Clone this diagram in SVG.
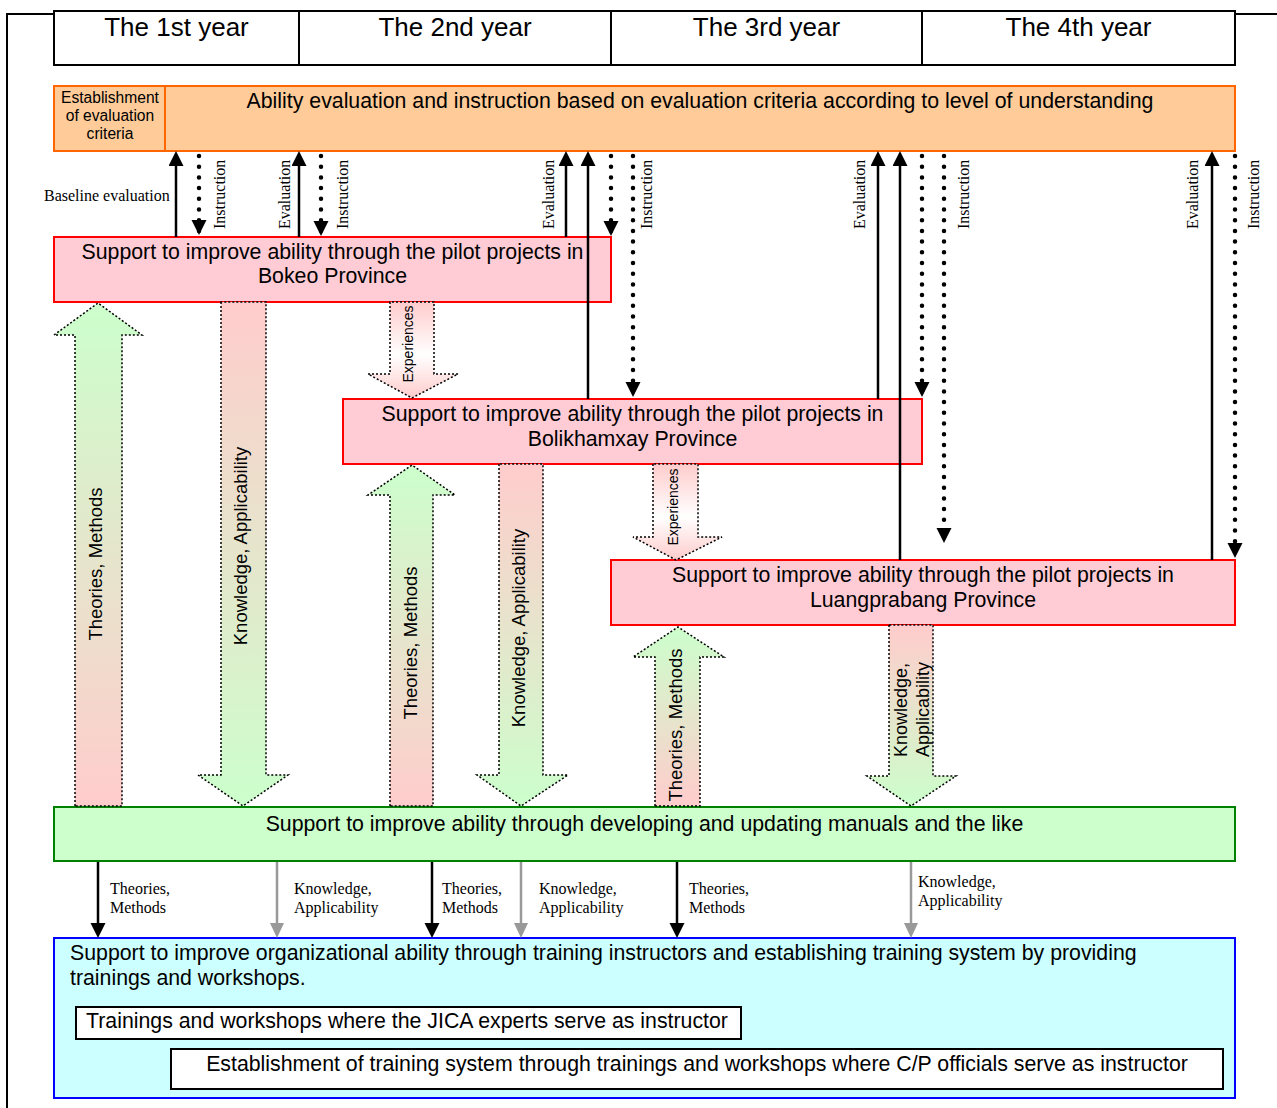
<svg xmlns="http://www.w3.org/2000/svg" width="1277" height="1108" viewBox="0 0 1277 1108">
<style>
text{font-family:"Liberation Sans",Arial,sans-serif;fill:#000}
.hdr{font-size:26px;text-anchor:middle}
.big{font-size:21.3px}
.mid{text-anchor:middle}
.sm{font-size:15.6px;text-anchor:middle}
.ser{font-family:"Liberation Serif","Times New Roman",serif;font-size:16px}
.blk{font-size:18.5px;text-anchor:middle}
.exp{font-size:14px;text-anchor:middle}
.frame{fill:none;stroke:#000;stroke-width:2}
.hbox{fill:#fff;stroke:#000;stroke-width:2}
.orange{fill:#FFCC99;stroke:#FF6600;stroke-width:2}
.pink{fill:#FFCCD5;stroke:#FF0000;stroke-width:2}
.green{fill:#CCFFCC;stroke:#008000;stroke-width:2}
.cyan{fill:#CCFFFF;stroke:#0000FF;stroke-width:2}
.solid{stroke:#000;stroke-width:2.5;fill:none;marker-end:url(#ah)}
.dots{stroke:#000;stroke-width:4.5;stroke-linecap:round;stroke-dasharray:0 10.7;fill:none;marker-end:url(#ah)}
.gsolid{stroke:#999;stroke-width:2.5;fill:none;marker-end:url(#ahg)}
.barrow{stroke:#000;stroke-width:1.5;stroke-dasharray:2 2}
</style>
<defs>
<marker id="ah" markerUnits="userSpaceOnUse" markerWidth="16" markerHeight="16" refX="11" refY="7.5" orient="auto">
<path d="M0,0 L15,7.5 L0,15 Z" fill="#000"/>
</marker>
<marker id="ahg" markerUnits="userSpaceOnUse" markerWidth="16" markerHeight="16" refX="11" refY="7" orient="auto">
<path d="M0,0 L15,7 L0,14 Z" fill="#999"/>
</marker>
<linearGradient id="gUp" x1="0" y1="0" x2="0" y2="1">
<stop offset="0" stop-color="#CCFFCC"/>
<stop offset="1" stop-color="#FFCCCC"/>
</linearGradient>
<linearGradient id="gDown" x1="0" y1="0" x2="0" y2="1">
<stop offset="0" stop-color="#FFCCCC"/>
<stop offset="1" stop-color="#CCFFCC"/>
</linearGradient>
<linearGradient id="gExp" x1="0" y1="0" x2="0" y2="1">
<stop offset="0" stop-color="#FFCCCC"/>
<stop offset="0.55" stop-color="#FFFFFF"/>
<stop offset="1" stop-color="#FFCCCC"/>
</linearGradient>
</defs>

<g id="frame">
<path class="frame" d="M54,14 H7 V1108 M1235,14 H1277"/>
</g>

<g id="header">
<rect class="hbox" x="54" y="11" width="1181" height="54"/>
<path class="frame" d="M299,11 V65 M611,11 V65 M922,11 V65"/>
<text class="hdr" x="176.5" y="36">The 1st year</text>
<text class="hdr" x="455" y="36">The 2nd year</text>
<text class="hdr" x="766.5" y="36">The 3rd year</text>
<text class="hdr" x="1078.5" y="36">The 4th year</text>
</g>

<g id="evaluation">
<rect class="orange" x="54" y="86" width="1181" height="65"/>
<line x1="165" y1="86" x2="165" y2="151" stroke="#FF6600" stroke-width="2"/>
<text class="sm" x="110" y="103">Establishment</text>
<text class="sm" x="110" y="121">of evaluation</text>
<text class="sm" x="110" y="139">criteria</text>
<text class="big mid" x="700" y="108">Ability evaluation and instruction based on evaluation criteria according to level of understanding</text>
</g>

<g id="bokeo">
<rect class="pink" x="54" y="237" width="557" height="65"/>
<text class="big mid" x="332.5" y="259">Support to improve ability through the pilot projects in</text>
<text class="big mid" x="332.5" y="283">Bokeo Province</text>
</g>

<g id="bolikhamxay">
<rect class="pink" x="343" y="399" width="579" height="65"/>
<text class="big mid" x="632.5" y="421">Support to improve ability through the pilot projects in</text>
<text class="big mid" x="632.5" y="446">Bolikhamxay Province</text>
</g>

<g id="luangprabang">
<rect class="pink" x="611" y="560" width="624" height="65"/>
<text class="big mid" x="923" y="582">Support to improve ability through the pilot projects in</text>
<text class="big mid" x="923" y="607">Luangprabang Province</text>
</g>

<g id="manuals">
<rect class="green" x="54" y="807" width="1181" height="54"/>
<text class="big mid" x="644.5" y="831">Support to improve ability through developing and updating manuals and the like</text>
</g>

<g id="training">
<rect class="cyan" x="54" y="938" width="1181" height="160"/>
<text class="big" x="70" y="960">Support to improve organizational ability through training instructors and establishing training system by providing</text>
<text class="big" x="70" y="985">trainings and workshops.</text>
<rect class="hbox" x="76" y="1007" width="665" height="32"/>
<text class="big" x="86" y="1028">Trainings and workshops where the JICA experts serve as instructor</text>
<rect class="hbox" x="171" y="1049" width="1052" height="40"/>
<text class="big mid" x="697" y="1071">Establishment of training system through trainings and workshops where C/P officials serve as instructor</text>
</g>

<g id="connectors">
<!-- evaluation / instruction arrows -->
<line class="solid" x1="176" y1="237" x2="176" y2="155"/>
<line class="dots" x1="199" y1="156" x2="199" y2="231"/>
<line class="solid" x1="299" y1="237" x2="299" y2="155"/>
<line class="dots" x1="321" y1="156" x2="321" y2="232"/>
<line class="solid" x1="566" y1="237" x2="566" y2="155"/>
<line class="solid" x1="588" y1="399" x2="588" y2="155"/>
<line class="dots" x1="611" y1="156" x2="611" y2="232"/>
<line class="dots" x1="633" y1="156" x2="633" y2="393"/>
<line class="solid" x1="878" y1="399" x2="878" y2="155"/>
<line class="solid" x1="900" y1="560" x2="900" y2="155"/>
<line class="dots" x1="922" y1="156" x2="922" y2="393"/>
<line class="dots" x1="944" y1="156" x2="944" y2="539"/>
<line class="solid" x1="1212" y1="560" x2="1212" y2="155"/>
<line class="dots" x1="1235" y1="156" x2="1235" y2="554"/>

<text class="ser" x="44" y="201">Baseline evaluation</text>
<text class="ser" transform="translate(225,229) rotate(-90)">Instruction</text>
<text class="ser" transform="translate(290,229) rotate(-90)">Evaluation</text>
<text class="ser" transform="translate(348,229) rotate(-90)">Instruction</text>
<text class="ser" transform="translate(554,229) rotate(-90)">Evaluation</text>
<text class="ser" transform="translate(652,229) rotate(-90)">Instruction</text>
<text class="ser" transform="translate(865,229) rotate(-90)">Evaluation</text>
<text class="ser" transform="translate(969,229) rotate(-90)">Instruction</text>
<text class="ser" transform="translate(1198,229) rotate(-90)">Evaluation</text>
<text class="ser" transform="translate(1259,229) rotate(-90)">Instruction</text>

<!-- block arrows -->
<path class="barrow" fill="url(#gUp)" d="M75,806 V335 H54 L98,303 L142,335 H122 V806 Z"/>
<path class="barrow" fill="url(#gDown)" d="M221,302 V775 H198 L243,806 L288,775 H266 V302 Z"/>
<path class="barrow" fill="url(#gExp)" d="M390,302 V374 H368 L412,398 L458,374 H434 V302 Z"/>
<path class="barrow" fill="url(#gUp)" d="M390,806 V495 H368 L412,465 L455,495 H433 V806 Z"/>
<path class="barrow" fill="url(#gDown)" d="M499,464 V775 H477 L521,806 L568,775 H543 V464 Z"/>
<path class="barrow" fill="url(#gExp)" d="M653,464 V537 H633 L676,560 L722,537 H698 V464 Z"/>
<path class="barrow" fill="url(#gUp)" d="M655,806 V657 H633 L678,627 L724,657 H700 V806 Z"/>
<path class="barrow" fill="url(#gDown)" d="M889,625 V776 H867 L911,806 L956,776 H933 V625 Z"/>

<text class="blk" transform="translate(102,564) rotate(-90)">Theories, Methods</text>
<text class="blk" transform="translate(247,546) rotate(-90)">Knowledge, Applicability</text>
<text class="exp" transform="translate(413,344) rotate(-90)">Experiences</text>
<text class="blk" transform="translate(417,643) rotate(-90)">Theories, Methods</text>
<text class="blk" transform="translate(525,628) rotate(-90)">Knowledge, Applicability</text>
<text class="exp" transform="translate(678,507) rotate(-90)">Experiences</text>
<text class="blk" transform="translate(682,725) rotate(-90)">Theories, Methods</text>
<text style="font-size:18px" transform="translate(907,757) rotate(-90)">Knowledge,</text>
<text style="font-size:18px" transform="translate(929,757) rotate(-90)">Applicability</text>

<!-- manuals to training arrows -->
<line class="solid" x1="98" y1="862" x2="98" y2="934"/>
<line class="gsolid" x1="277" y1="862" x2="277" y2="934"/>
<line class="solid" x1="432" y1="862" x2="432" y2="934"/>
<line class="gsolid" x1="521" y1="862" x2="521" y2="934"/>
<line class="solid" x1="677" y1="862" x2="677" y2="934"/>
<line class="gsolid" x1="911" y1="862" x2="911" y2="934"/>

<text class="ser" x="110" y="894">Theories,</text>
<text class="ser" x="110" y="913">Methods</text>
<text class="ser" x="294" y="894">Knowledge,</text>
<text class="ser" x="294" y="913">Applicability</text>
<text class="ser" x="442" y="894">Theories,</text>
<text class="ser" x="442" y="913">Methods</text>
<text class="ser" x="539" y="894">Knowledge,</text>
<text class="ser" x="539" y="913">Applicability</text>
<text class="ser" x="689" y="894">Theories,</text>
<text class="ser" x="689" y="913">Methods</text>
<text class="ser" x="918" y="887">Knowledge,</text>
<text class="ser" x="918" y="906">Applicability</text>
</g>
</svg>
